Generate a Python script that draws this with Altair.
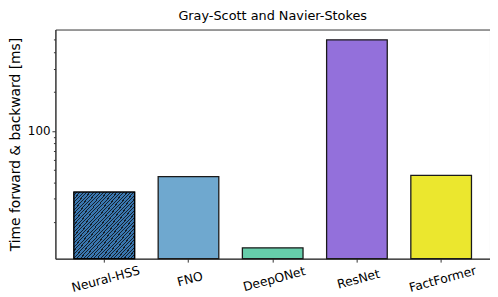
import altair as alt
import pandas as pd

models = ["Neural-HSS", "FNO", "DeepONet", "ResNet", "FactFormer"]
times_ms = [33.8, 44.4, 12.6, 500.0, 45.5]
bar_colors = ["#3b78b0", "#6fa8cf", "#66cdaa", "#9370db", "#ebe72e"]
y_ticks = [20, 30, 40, 50, 60, 70, 80, 90, 100, 200, 300, 400, 500]
y_min, y_max = 10.4, 600.0

df = pd.DataFrame({"model": models, "time": times_ms})

# hatch pattern for Neural-HSS simulated by a striped gradient
stops = []
n_periods = 36
for k in range(n_periods):
    stops.append(alt.GradientStop(offset=k / n_periods, color="#3a77b0"))
    stops.append(alt.GradientStop(offset=(k + 0.68) / n_periods, color="#3a77b0"))
    stops.append(alt.GradientStop(offset=(k + 0.68) / n_periods, color="#14202c"))
    stops.append(alt.GradientStop(offset=(k + 1) / n_periods, color="#14202c"))
hatch = alt.LinearGradient(gradient="linear", x1=0, y1=0, x2=1, y2=1, stops=stops)

x_enc = alt.X(
    "model:N",
    sort=models,
    title=None,
    scale=alt.Scale(paddingInner=0.28, paddingOuter=0.22),
    axis=alt.Axis(
        labelAngle=345,
        labelAlign="center",
        labelBaseline="top",
        labelFontSize=12.5,
        labelColor="#000",
        labelPadding=11,
        tickSize=3.5,
        tickColor="#333",
        domainColor="#333",
    ),
)
y_enc = alt.Y(
    "time:Q",
    title="Time forward & backward [ms]",
    scale=alt.Scale(type="log", domain=[y_min, y_max], nice=False, clamp=True),
    axis=alt.Axis(
        values=y_ticks,
        labelExpr="datum.value == 100 ? '100' : ''",
        tickSize={"expr": "datum.value == 100 ? 3.5 : 2"},
        labelFontSize=12,
        labelColor="#000",
        titleFontSize=14,
        titleFontWeight="normal",
        titleColor="#000",
        titlePadding=5,
        tickColor="#333",
        domainColor="#333",
        grid=False,
    ),
)

bars = alt.Chart(df).mark_bar(stroke="#1a1a1a", strokeWidth=1.3).encode(
    x=x_enc,
    y=y_enc,
    y2=alt.datum(y_min),
    color=alt.Color("model:N", scale=alt.Scale(domain=models, range=bar_colors), legend=None),
)

hatched = alt.Chart(df).transform_filter(
    alt.datum.model == "Neural-HSS"
).mark_bar(fill=hatch, stroke="#000", strokeWidth=1.3).encode(
    x=alt.X("model:N", sort=models),
    y=alt.Y("time:Q"),
    y2=alt.datum(y_min),
)

chart = alt.layer(bars, hatched).properties(
    width=440,
    height=232,
    padding=0,
    title=alt.Title("Gray-Scott and Navier-Stokes", fontSize=13, fontWeight="normal", color="#000", offset=7),
).configure(font="DejaVu Sans").configure_view(stroke="#333", strokeWidth=1)

chart.save("out.html", embed_options={"renderer": "svg", "actions": False})
